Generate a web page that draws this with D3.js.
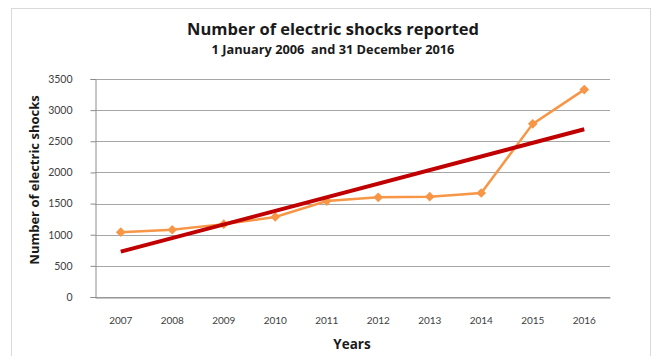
<!DOCTYPE html>
<html>
<head>
<meta charset="utf-8">
<script src="https://cdn.jsdelivr.net/npm/d3@7"></script>
<style>
body { margin: 0; background: #fff; }
text { font-family: Lato, "Open Sans", sans-serif; }
</style>
</head>
<body>
<div id="chart"></div>
<script>
var years = ["2007", "2008", "2009", "2010", "2011", "2012", "2013", "2014", "2015", "2016"];
var shocks = [1040, 1080, 1170, 1285, 1540, 1600, 1610, 1670, 2780, 3330];
var yTicks = [0, 500, 1000, 1500, 2000, 2500, 3000, 3500];

var W = 656, H = 356;
var svg = d3.select("#chart").append("svg")
    .attr("width", W)
    .attr("height", H);

// outer frame
svg.append("rect")
    .attr("x", 11.5).attr("y", 8.5)
    .attr("width", 639).attr("height", 360)
    .attr("fill", "#fff")
    .attr("stroke", "#d9d9d9");

var x = d3.scaleBand().domain(years).range([95, 610]);
var y = d3.scaleLinear().domain([0, 3500]).range([297, 79]);

// gridlines
svg.append("g").selectAll("line")
    .data(yTicks)
    .enter().append("line")
    .attr("x1", 95).attr("x2", 610)
    .attr("y1", function (d) { return Math.round(y(d)) + 0.5; })
    .attr("y2", function (d) { return Math.round(y(d)) + 0.5; })
    .attr("stroke", "#a6a6a6")
    .attr("stroke-width", 1);

// y axis
var yAxis = svg.append("g")
    .attr("transform", "translate(95.5,0)")
    .call(d3.axisLeft(y).tickValues(yTicks).tickFormat(d3.format("d")).tickSize(5).tickPadding(18));
yAxis.select(".domain").attr("stroke", "#8c8c8c");
yAxis.selectAll(".tick line").attr("stroke", "#8c8c8c");
yAxis.selectAll("text")
    .attr("fill", "#404040")
    .style("font-size", "10.5px")
    .style("font-family", "Lato, sans-serif");

// x axis labels
var xAxis = svg.append("g")
    .attr("transform", "translate(0,297.5)")
    .call(d3.axisBottom(x).tickSize(0).tickPadding(19));
xAxis.select(".domain").attr("stroke", "#8c8c8c");
xAxis.selectAll("text")
    .attr("fill", "#404040")
    .style("font-size", "10px")
    .style("font-family", "Lato, sans-serif");

function cx(d, i) { return x(years[i]) + x.bandwidth() / 2; }

// data line
var line = d3.line()
    .x(function (d, i) { return cx(d, i); })
    .y(function (d) { return y(d); });

svg.append("path")
    .datum(shocks)
    .attr("d", line)
    .attr("fill", "none")
    .attr("stroke", "#f79646")
    .attr("stroke-width", 2.5);

svg.append("g").selectAll("path")
    .data(shocks)
    .enter().append("path")
    .attr("d", d3.symbol().type(d3.symbolDiamond2).size(60))
    .attr("transform", function (d, i) { return "translate(" + cx(d, i) + "," + y(d) + ")"; })
    .attr("fill", "#f79646");

// linear trend (least squares)
var n = shocks.length;
var mx = d3.mean(shocks, function (d, i) { return i; });
var my = d3.mean(shocks);
var slope = d3.sum(shocks, function (d, i) { return (i - mx) * (d - my); }) /
    d3.sum(shocks, function (d, i) { return (i - mx) * (i - mx); });
var trend = [my - slope * mx, my + slope * (n - 1 - mx)];

svg.append("line")
    .attr("x1", cx(0, 0)).attr("y1", y(trend[0]))
    .attr("x2", cx(0, n - 1)).attr("y2", y(trend[1]))
    .attr("stroke", "#c00000")
    .attr("stroke-width", 4);

// titles
svg.append("text")
    .attr("x", 333).attr("y", 35)
    .attr("text-anchor", "middle")
    .style("font-family", "'Open Sans', sans-serif")
    .style("font-size", "16.5px")
    .style("font-weight", "bold")
    .attr("fill", "#1a1a1a")
    .text("Number of electric shocks reported");

svg.append("text")
    .attr("x", 333).attr("y", 54)
    .attr("text-anchor", "middle")
    .style("font-family", "'Open Sans', sans-serif")
    .style("font-size", "12.8px")
    .style("font-weight", "bold")
    .style("white-space", "pre")
    .attr("fill", "#1a1a1a")
    .text("1 January 2006  and 31 December 2016");

svg.append("text")
    .attr("transform", "translate(39,180) rotate(-90)")
    .attr("text-anchor", "middle")
    .style("font-family", "'Open Sans', sans-serif")
    .style("font-size", "13px")
    .style("font-weight", "bold")
    .attr("fill", "#1a1a1a")
    .text("Number of electric shocks");

svg.append("text")
    .attr("x", 352).attr("y", 349)
    .attr("text-anchor", "middle")
    .style("font-family", "'Open Sans', sans-serif")
    .style("font-size", "13.5px")
    .style("font-weight", "bold")
    .attr("fill", "#1a1a1a")
    .text("Years");
</script>
</body>
</html>
